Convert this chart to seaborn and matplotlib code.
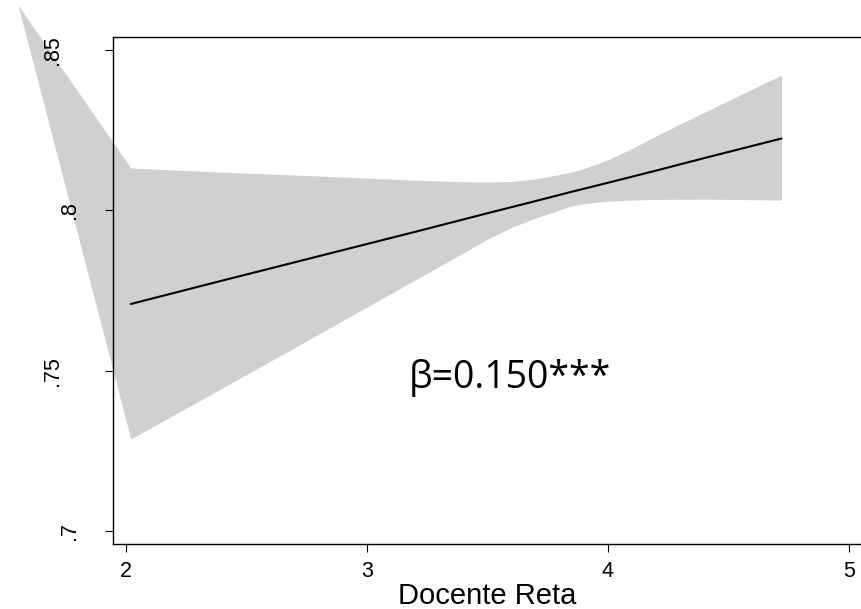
import matplotlib
matplotlib.use("Agg")
import matplotlib.pyplot as plt
import matplotlib.transforms as mtransforms
import seaborn as sns

# band (confidence interval)
band_x = [1.552, 2.02, 2.4, 2.8, 3.2, 3.4, 3.5, 3.6, 3.7, 3.85, 3.9, 4.0, 4.1, 4.2, 4.4, 4.72]
band_lo = [0.8640, 0.7287, 0.7446, 0.7614, 0.7783, 0.7867, 0.7910, 0.7947, 0.7976, 0.8014, 0.8021, 0.8029, 0.8032, 0.8034, 0.8035, 0.8032]
band_hi = [0.8640, 0.8132, 0.8119, 0.8107, 0.8094, 0.8089, 0.8088, 0.8090, 0.8098, 0.8119, 0.8130, 0.8158, 0.8193, 0.8232, 0.8306, 0.8422]

# fitted line
fit_x = [2.02, 2.4, 2.8, 3.2, 3.5, 3.7, 3.85, 4.0, 4.2, 4.4, 4.72]
fit_y = [0.7708, 0.7781, 0.7857, 0.7933, 0.7991, 0.8029, 0.8058, 0.8086, 0.8124, 0.8163, 0.8224]

x_ticks = [2, 3, 4, 5]
y_ticks = [0.7, 0.75, 0.8, 0.85]
y_labels = [".7", ".75", ".8", ".85"]
x_label = "Docente Reta"
note = "β=0.150***"

sns.set_style("white")
plt.rcParams['font.family'] = ['Liberation Sans', 'DejaVu Sans']
plt.rcParams['text.color'] = 'black'
plt.rcParams['axes.labelcolor'] = 'black'
plt.rcParams['xtick.color'] = 'black'
plt.rcParams['ytick.color'] = 'black'

fig = plt.figure(figsize=(8.62, 6.09), dpi=100)
ax = fig.add_axes([113/862, 65/609, 749/862, 507/609])

ax.fill_between(band_x, band_lo, band_hi, color="#d0d0d0", linewidth=0, clip_on=False, zorder=0.5)
sns.lineplot(x=fit_x, y=fit_y, color="black", linewidth=1.5, ax=ax, zorder=2)

ax.set_xlim(1.946, 5.054)
ax.set_ylim(0.69595, 0.85405)
ax.set_xticks(x_ticks)
ax.set_xticklabels([str(t) for t in x_ticks], fontsize=15.5)
ax.set_yticks(y_ticks)
ax.set_yticklabels(y_labels, rotation=90, va="center", fontsize=15.5)

ax.tick_params(axis="both", direction="out", length=6, width=0.8, colors="black",
               left=True, bottom=True)
ax.tick_params(axis="y", pad=18)
ax.tick_params(axis="x", pad=6)
ax.yaxis.set_zorder(5)

# longer labels sit further left in the reference
for lab in ax.get_yticklabels():
    if len(lab.get_text()) == 3:
        lab.set_transform(lab.get_transform() + mtransforms.ScaledTranslation(-0.17, 0, fig.dpi_scale_trans))

for side in ["left", "top", "bottom"]:
    ax.spines[side].set_color("black")
    ax.spines[side].set_linewidth(1.0)
ax.spines["right"].set_visible(False)

ax.set_xlabel(x_label, fontsize=21, labelpad=0, color="black")
ax.set_ylabel("")

ax.text(3.593, 0.7477, note, fontsize=27, ha="center", va="center", color="black",
        family=["Open Sans", "DejaVu Sans"])

fig.savefig("out.png", dpi=100)
